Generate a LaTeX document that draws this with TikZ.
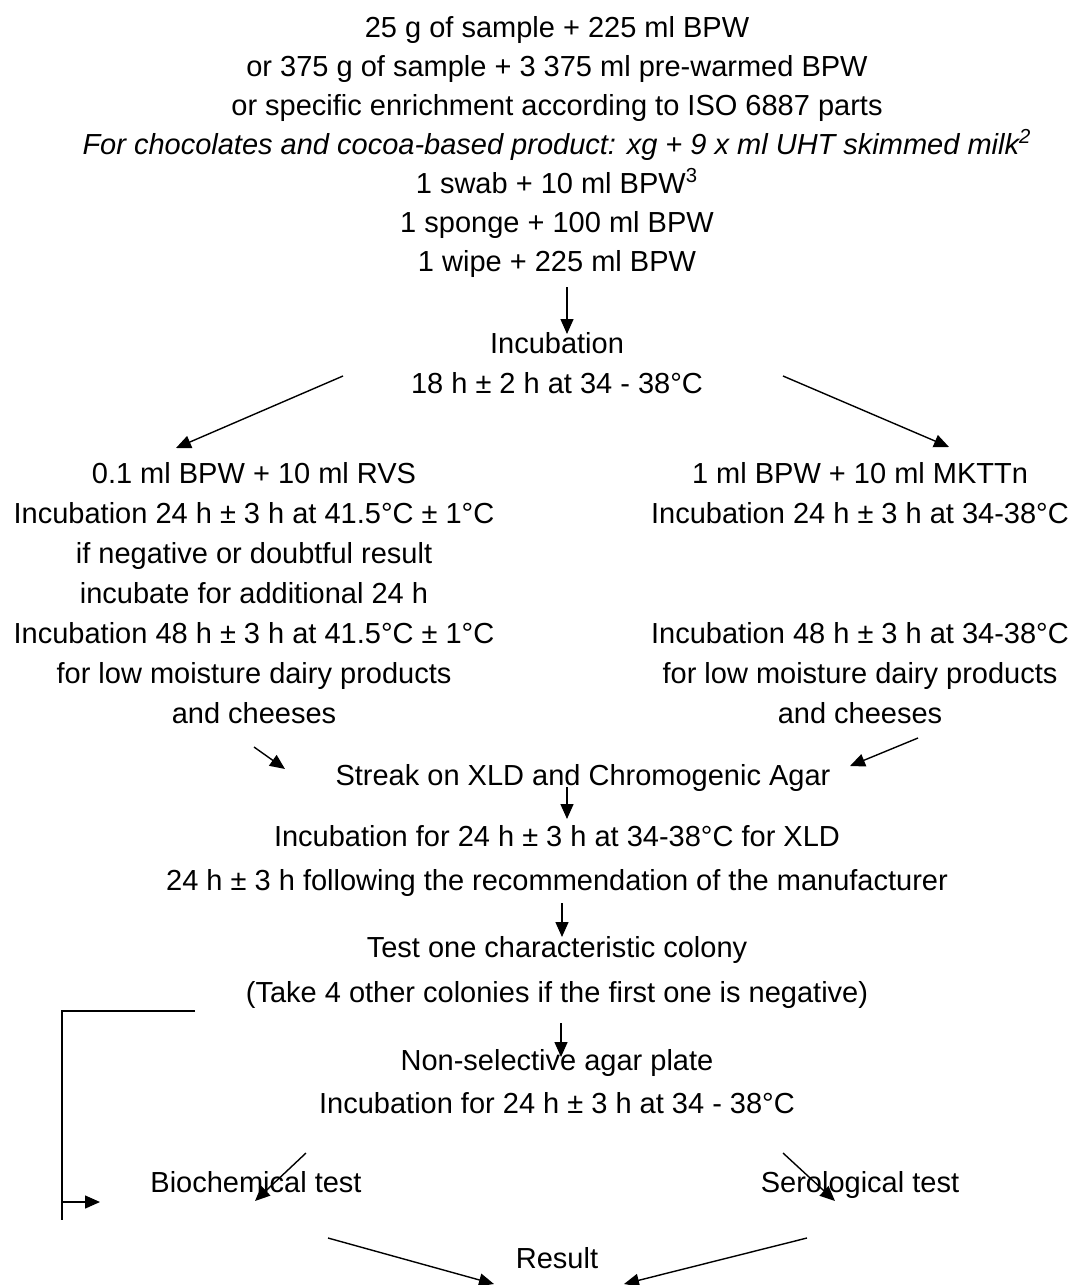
\documentclass[tikz,border=0pt]{standalone}
\usepackage{fontspec}
\setmainfont{Liberation Sans}
\usetikzlibrary{arrows.meta}
\tikzset{
  txt/.style={anchor=base, inner sep=0pt, font=\fontsize{14.5pt}{17pt}\selectfont},
  conn/.style={line width=0.7pt, -{Triangle[length=7.5pt,width=6.5pt]}},
  plain/.style={line width=0.7pt}
}
\begin{document}
\begin{tikzpicture}[x=0.5pt,y=-0.5pt]
\useasboundingbox (0,0) rectangle (1073,1285);
% top block
\node[txt] (t1) at (557,37) {25 g of sample + 225 ml BPW};
\node[txt] (t2) at (557,76) {or 375 g of sample + 3 375 ml pre-warmed BPW};
\node[txt] (t3) at (557,115) {or specific enrichment according to ISO 6887 parts};
\node[txt] (t4) at (557,154) {\itshape For chocolates and cocoa-based product: xg + 9 x ml UHT skimmed milk\textsuperscript{2}};
\node[txt] (t5) at (557,193) {1 swab + 10 ml BPW\textsuperscript{3}};
\node[txt] (t6) at (557,232) {1 sponge + 100 ml BPW};
\node[txt] (t7) at (557,271) {1 wipe + 225 ml BPW};
\node[txt] (i1) at (557,353) {Incubation};
\node[txt] (i2) at (557,393) {18 h ± 2 h at 34 - 38°C};
% left block
\node[txt] (l1) at (254,483) {0.1 ml BPW + 10 ml RVS};
\node[txt] (l2) at (254,523) {Incubation 24 h ± 3 h at 41.5°C ± 1°C};
\node[txt] (l3) at (254,563) {if negative or doubtful result};
\node[txt] (l4) at (254,603) {incubate for additional 24 h};
\node[txt] (l5) at (254,643) {Incubation 48 h ± 3 h at 41.5°C ± 1°C};
\node[txt] (l6) at (254,683) {for low moisture dairy products};
\node[txt] (l7) at (254,723) {and cheeses};
% right block
\node[txt] (r1) at (860,483) {1 ml BPW + 10 ml MKTTn};
\node[txt] (r2) at (860,523) {Incubation 24 h ± 3 h at 34-38°C};
\node[txt] (r5) at (860,643) {Incubation 48 h ± 3 h at 34-38°C};
\node[txt] (r6) at (860,683) {for low moisture dairy products};
\node[txt] (r7) at (860,723) {and cheeses};
% lower column
\node[txt] (s1) at (583,785) {Streak on XLD and Chromogenic Agar};
\node[txt] (x1) at (557,846) {Incubation for 24 h ± 3 h at 34-38°C for XLD};
\node[txt] (x2) at (557,890) {24 h ± 3 h following the recommendation of the manufacturer};
\node[txt] (c1) at (557,957) {Test one characteristic colony};
\node[txt] (c2) at (557,1002) {(Take 4 other colonies if the first one is negative)};
\node[txt] (n1) at (557,1070) {Non-selective agar plate};
\node[txt] (n2) at (557,1113) {Incubation for 24 h ± 3 h at 34 - 38°C};
\node[txt] (bio) at (256,1192) {Biochemical test};
\node[txt] (sero) at (860,1192) {Serological test};
\node[txt] (res) at (557,1268) {Result};
% connector end points
\coordinate (a1s) at (567,287); \coordinate (a1e) at (567,334);
\coordinate (dls) at (343,376); \coordinate (dle) at (176,448);
\coordinate (drs) at (783,376); \coordinate (dre) at (949,447);
\coordinate (sls) at (254,747); \coordinate (sle) at (285,769);
\coordinate (srs) at (918,738); \coordinate (sre) at (850,766);
\coordinate (a2s) at (567,787); \coordinate (a2e) at (567,819);
\coordinate (a3s) at (562,903); \coordinate (a3e) at (562,937);
\coordinate (a4s) at (561,1023); \coordinate (a4e) at (561,1057);
\coordinate (bk1) at (195,1011); \coordinate (bk2) at (62,1011); \coordinate (bk3) at (62,1220);
\coordinate (bas) at (62,1202); \coordinate (bae) at (100,1202);
\coordinate (bis) at (306,1153); \coordinate (bie) at (255,1201);
\coordinate (ses) at (783,1153); \coordinate (see) at (835,1201);
\coordinate (rls) at (328,1238); \coordinate (rle) at (494,1284);
\coordinate (rrs) at (807,1238); \coordinate (rre) at (624,1284);
% connectors
\draw[conn] (a1s) -- (a1e);
\draw[conn] (dls) -- (dle);
\draw[conn] (drs) -- (dre);
\draw[conn] (sls) -- (sle);
\draw[conn] (srs) -- (sre);
\draw[conn] (a2s) -- (a2e);
\draw[conn] (a3s) -- (a3e);
\draw[conn] (a4s) -- (a4e);
\draw[plain] (bk1) -- (bk2) -- (bk3);
\draw[conn] (bas) -- (bae);
\draw[conn] (bis) -- (bie);
\draw[conn] (ses) -- (see);
\draw[conn] (rls) -- (rle);
\draw[conn] (rrs) -- (rre);
\end{tikzpicture}
\end{document}
